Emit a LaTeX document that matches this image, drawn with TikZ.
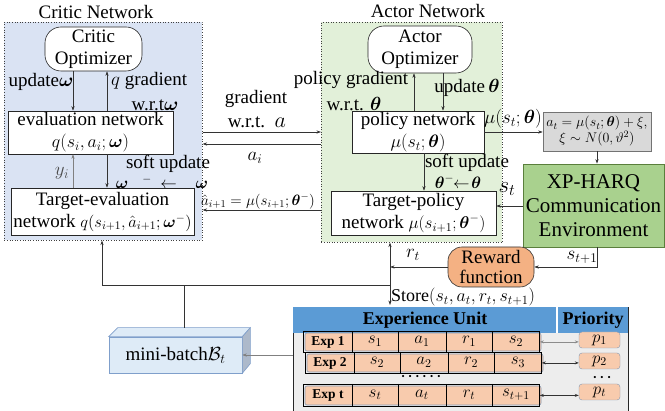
\RequirePackage{fix-cm}
\documentclass[tikz,border=0pt]{standalone}
\usepackage{amsmath,amssymb}
\usepackage{fontspec}
\setmainfont{Liberation Serif}
\usetikzlibrary{arrows.meta,calc,shapes.misc}
\definecolor{critbg}{HTML}{DAE3F3}
\definecolor{actbg}{HTML}{E2F0D9}
\definecolor{envg}{HTML}{A9D18E}
\definecolor{envb}{HTML}{5A7F3C}
\definecolor{rewf}{HTML}{F4B183}
\definecolor{noisef}{HTML}{D9D9D9}
\definecolor{hdrb}{HTML}{5B9BD5}
\definecolor{bodyg}{HTML}{EDEDED}
\definecolor{cellf}{HTML}{F8CBAD}
\definecolor{cellb}{HTML}{8497B0}
\definecolor{mbf}{HTML}{DEEBF7}
\definecolor{mbs}{HTML}{ADB9CA}
\definecolor{mbb}{HTML}{7F9FCB}
\newcommand\fsA{\fontsize{19}{22}\selectfont}
\newcommand\fsM{\fontsize{16.5}{18}\selectfont}
\newcommand\fsN{\fontsize{18}{20}\selectfont}
\newcommand\fsB{\fontsize{15}{17}\selectfont}
\newcommand\fsC{\fontsize{14}{16}\selectfont}
\newcommand\fsEnv{\fontsize{21}{24}\selectfont}
\newcommand\fsCell{\fontsize{17}{19}\selectfont}
\newcommand\fsExp{\fontsize{13.5}{15}\selectfont\bfseries}
\begin{document}
\begin{tikzpicture}[x=1pt,y=-1pt,
  grp/.style={draw=black!75, dotted, line width=0.6pt, inner sep=0pt, anchor=north west},
  netbox/.style={draw=black!85, fill=white, line width=0.6pt, align=center, inner sep=1pt, font=\fsA},
  optbox/.style={netbox, rounded corners=16pt},
  lbl/.style={font=\fsA, inner sep=0pt, anchor=center},
  arr/.style={-{Stealth[length=4.5pt,width=3.2pt]}, draw=black!80, line width=0.6pt},
  darr/.style={{Stealth[length=4pt,width=3pt]}-{Stealth[length=4pt,width=3pt]}, draw=black!80, line width=0.6pt},
  ln/.style={draw=black!80, line width=0.6pt},
  celltxt/.style={font=\fsCell, inner sep=0pt},
  pcell/.style={draw=cellb, fill=cellf, rounded corners=3pt, minimum width=41pt, minimum height=16pt, inner sep=0pt, font=\fsCell}
]
\useasboundingbox (0,0) rectangle (665,411);

% groups
\node[grp, fill=critbg, minimum width=198pt, minimum height=218pt] (cg) at (4,22) {};
\node[grp, fill=actbg, minimum width=181pt, minimum height=220pt] (ag) at (321,22) {};
\node[lbl] (cgt) at (96,12) {Critic Network};
\node[lbl] (agt) at (428,11) {Actor Network};

% critic
\node[optbox, minimum width=97pt, minimum height=44pt] (copt) at (93.5,49) {Critic\\Optimizer};
\node[netbox, minimum width=165pt, minimum height=43pt] (eval) at (90.5,132.5) {evaluation network\\{\fsN$q(s_i,a_i;\boldsymbol{\omega})$}};
\node[netbox, minimum width=183pt, minimum height=47pt] (teval) at (102.5,211.5) {Target-evaluation\\network {\fsM$q(s_{i+1},\hat a_{i+1};\boldsymbol{\omega}^{-})$}};

\coordinate (cx1) at (73,0);
\coordinate (cx2) at (107,0);
\draw[arr] (copt.south -| cx1) -- (eval.north -| cx1);
\draw[arr] (eval.north -| cx2) -- (copt.south -| cx2);
\draw[arr, draw=black!50] (teval.north -| cx1) -- (eval.south -| cx1);
\draw[arr] (eval.south -| cx2) -- (teval.north -| cx2);
\node[lbl] (l1) at (41,82) {update$\boldsymbol{\omega}$};
\node[lbl, anchor=west] (l2) at (111,81) {$q$ gradient};
\node[lbl] (l3) at (155,105) {w.r.t$\boldsymbol{\omega}$};
\node[lbl, text=black!70] (l4) at (62,173) {$y_i$};
\node[lbl] (l5) at (168,164) {soft update};
\node[lbl, font=\fsM] (l6) at (162,182) {$\boldsymbol{\omega}\hspace{14pt}{}^{-}\hspace{4pt}\leftarrow\hspace{14pt}\boldsymbol{\omega}$};

% actor
\node[optbox, minimum width=104pt, minimum height=47pt] (aopt) at (420,49.5) {Actor\\Optimizer};
\node[netbox, minimum width=132pt, minimum height=42pt] (pol) at (418,132) {policy network\\{\fsN$\mu(s_t;\boldsymbol{\theta})$}};
\node[netbox, minimum width=165pt, minimum height=44pt] (tpol) at (413.5,213) {Target-policy\\network {\fontsize{17}{19}\selectfont$\mu(s_{i+1};\boldsymbol{\theta}^{-})$}};

\coordinate (ax1) at (414,0);
\coordinate (ax2) at (443,0);
\coordinate (ax3) at (424,0);
\draw[arr] (pol.north -| ax1) -- (aopt.south -| ax1);
\draw[arr] (aopt.south -| ax2) -- (pol.north -| ax2);
\draw[arr] (pol.south -| ax3) -- (tpol.north -| ax3);
\node[lbl] (l7) at (351,80) {policy gradient};
\node[lbl] (l8) at (354,104) {w.r.t. $\boldsymbol{\theta}$};
\node[lbl] (l9) at (467,88) {update$\,\boldsymbol{\theta}$};
\node[lbl] (l10) at (467,163) {soft update};
\node[lbl, font=\fsM] (l11) at (458,182) {$\boldsymbol{\theta}^{-}\!\!\leftarrow\!\boldsymbol{\theta}$};

% between groups
\coordinate (my1) at (0,132);
\coordinate (my2) at (0,144);
\coordinate (my3) at (0,210);
\draw[arr] (cg.east |- my1) -- (ag.west |- my1);
\draw[arr] (ag.west |- my2) -- (cg.east |- my2);
\draw[arr] (ag.west |- my3) -- (cg.east |- my3);
\node[lbl] (l12) at (256,99) {gradient};
\node[lbl] (l13) at (257,122) {w.r.t. \,{\fontsize{22}{24}\selectfont$a$}};
\node[lbl] (l14) at (255,158) {$a_i$};
\node[lbl, font=\fsB] (l15) at (258,201) {$\hat a_{i+1}=\mu(s_{i+1};\boldsymbol{\theta}^{-})$};

% right side
\node[draw=black!55, fill=noisef, line width=0.6pt, minimum width=108pt, minimum height=39pt, inner sep=1pt, align=center, font=\fsC] (noise) at (597,131.5) {$a_t=\mu(s_t;\boldsymbol{\theta})+\xi,$\\$\xi\sim N(0,\vartheta^2)$};
\node[draw=envb, fill=envg, line width=0.8pt, minimum width=141pt, minimum height=83pt, inner sep=0pt, align=center, font=\fsEnv] (env) at (593.5,205.5) {XP-HARQ\\Communication\\Environment};
\node[draw=black!80, fill=rewf, line width=0.6pt, rounded corners=14pt, minimum width=86pt, minimum height=40pt, inner sep=0pt, align=center, font=\fontsize{19}{20}\selectfont] (rew) at (491,267) {Reward\\function};

\coordinate (xs) at (597,0);
\coordinate (ys) at (0,206);
\draw[arr] (pol.east) -- (noise.west |- pol.east);
\draw[arr] (noise.south -| xs) -- (env.north -| xs);
\draw[arr] (env.west |- ys) -- (tpol.east |- ys);
\draw[arr] (env.south -| xs) |- (rew.east);
\node[lbl] (l16) at (513,119) {$\mu(s_t;\boldsymbol{\theta})$};
\node[lbl, font=\fontsize{23}{25}\selectfont] (l17) at (507,189) {$s_t$};
\node[lbl] (l18) at (582,257) {$s_{t+1}$};
\node[lbl] (l19) at (413,255) {$r_t$};

% experience table
\node[anchor=north west, minimum width=335pt, minimum height=104pt, inner sep=0pt, fill=bodyg, draw=black!85, line width=0.7pt] (tbl) at (293,307) {};
\fill[hdrb] (293.4,307.4) rectangle (627.6,333);
\draw[white, line width=1.2pt] (557,307.4) -- (557,333);
\node[font=\fontsize{18}{20}\selectfont\bfseries, inner sep=0pt] (hd1) at (425,320) {Experience Unit};
\node[font=\fontsize{18}{20}\selectfont\bfseries, inner sep=0pt] (hd2) at (593,320) {Priority};

\foreach \r/\yt/\dx/\lab/\ca/\cb/\cc/\cd/\h/\py in {1/331/0/Exp 1/s_1/a_1/r_1/s_2/21/340, 2/352/2/Exp 2/s_2/a_2/r_2/s_3/21/361, t/384/0/Exp t/s_t/a_t/r_t/s_{t+1}/22/392}{
  \fill[cellf, draw=cellb, line width=0.6pt, rounded corners=2pt] (305+\dx,\yt+2) rectangle (541+\dx,\yt+\h-1);
  \node[anchor=north west, draw=black, line width=0.8pt, minimum width=236pt, minimum height=\h pt, inner sep=0pt] (row\r) at (303+\dx,\yt) {};
  \foreach \cx in {352,398,446,492}{ \draw[black, line width=0.8pt] (\cx+\dx,\yt) -- (\cx+\dx,\yt+\h); }
  \node[font=\fsExp, inner sep=0pt] (ex\r) at (328+\dx,\yt+\h/2+1) {\lab};
  \node[celltxt] (c\r a) at (375+\dx,\yt+\h/2) {$\ca$};
  \node[celltxt] (c\r b) at (422+\dx,\yt+\h/2) {$\cb$};
  \node[celltxt] (c\r c) at (469+\dx,\yt+\h/2) {$\cc$};
  \node[celltxt] (c\r d) at (516+\dx,\yt+\h/2) {$\cd$};
  \node[pcell] (p\r) at (599.5,\py) {$p_{\r}$};
}
\draw[darr, draw=black!45] (row1.east) -- (p1.west |- row1.east);
\draw[darr] (row2.east) -- (p2.west |- row2.east);
\draw[darr] (rowt.east) -- (pt.west |- rowt.east);
\node[inner sep=0pt, font=\fontsize{9}{10}\selectfont] (dots1) at (421,377) {\textbullet\hspace{4pt}\textbullet\hspace{4pt}\textbullet\hspace{4pt}\textbullet\hspace{4pt}\textbullet\hspace{4pt}\textbullet};
\node[inner sep=0pt, font=\fontsize{9}{10}\selectfont] (dots2) at (602,378) {\textbullet\hspace{4pt}\textbullet\hspace{4pt}\textbullet};

% mini-batch
\node[draw=mbb, fill=mbf, line width=0.6pt, minimum width=133pt, minimum height=36pt, inner sep=0pt, font=\fsA] (mb) at (175.5,355) {mini-batch$\mathcal{B}_t$};
\filldraw[draw=mbb, fill=mbf, line width=0.6pt] (mb.north west) -- ++(9,-9) -- ($(mb.north east)+(8,-9)$) -- (mb.north east) -- cycle;
\filldraw[draw=mbb, fill=mbs, line width=0.6pt] (mb.north east) -- ++(8,-9) -- ++(0,36) -- (mb.south east) -- cycle;
\draw[arr, draw=black!50] (tbl.west |- mb.east) -- (mb.east);

% bottom connections
\coordinate (j) at (390,285);
\coordinate (jl) at (102,285);
\coordinate (mbt) at (184,328);
\draw[arr] (rew.west) -- (rew.west -| j);
\draw[ln] (jl) -- (j);
\draw[ln] (mbt) -- (mbt |- j);
\draw[arr] (jl) -- (cg.south -| jl);
\draw[arr] (j) -- (ag.south -| j);
\draw[arr, shorten >=2pt] (j) -- (tbl.north -| j);
\node[lbl, anchor=west, font=\fontsize{18}{20}\selectfont] (store) at (391,297) {Store$(s_t,a_t,r_t,s_{t+1})$};
\end{tikzpicture}
\end{document}
